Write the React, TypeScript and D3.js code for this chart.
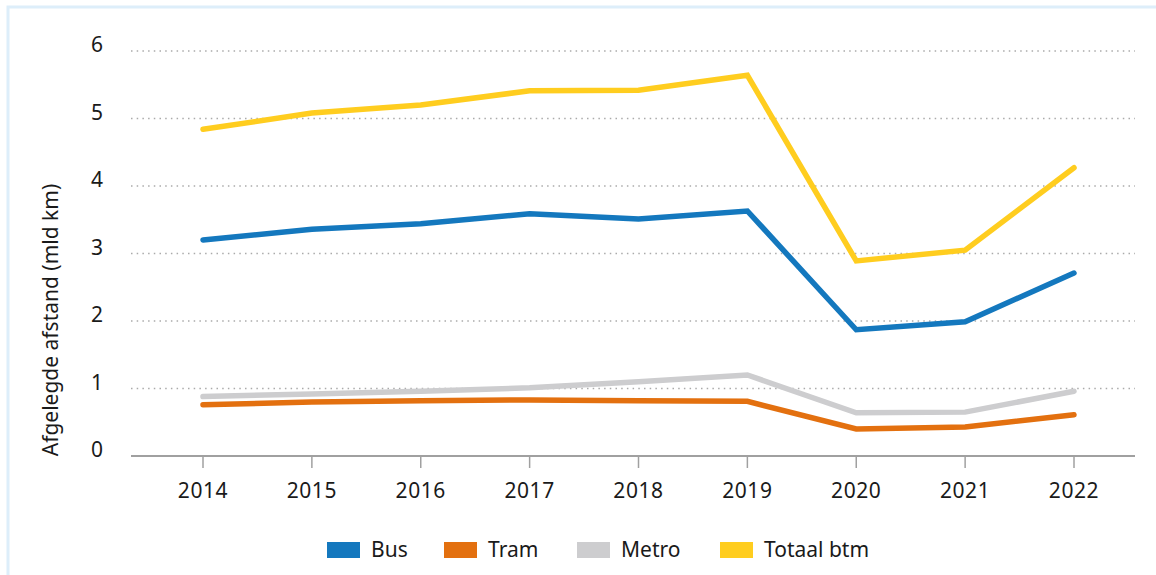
import React from "react";
import * as d3 from "d3";

const years = ["2014", "2015", "2016", "2017", "2018", "2019", "2020", "2021", "2022"];
const bus = [3.2, 3.36, 3.44, 3.59, 3.51, 3.63, 1.87, 1.99, 2.71];
const tram = [0.76, 0.8, 0.82, 0.83, 0.82, 0.81, 0.4, 0.43, 0.61];
const metro = [0.88, 0.92, 0.96, 1.01, 1.1, 1.2, 0.64, 0.65, 0.96];
const totaal = [4.84, 5.08, 5.2, 5.41, 5.42, 5.64, 2.89, 3.05, 4.27];
const yTicks = [0, 1, 2, 3, 4, 5, 6];
const seriesNames = ["Bus", "Tram", "Metro", "Totaal btm"];
const seriesColors = ["#1478be", "#e3700f", "#cdcdcf", "#ffcd1f"];
const yLabel = "Afgelegde afstand (mld km)";

const FONT = "'Noto Sans', 'Open Sans', sans-serif";

export default function App() {
  const W = 1156, H = 575;
  const x = d3.scalePoint<string>().domain(years).range([203, 1074]);
  const y = d3.scaleLinear().domain([0, 6]).range([456, 51]);
  const line = d3
    .line<number>()
    .x((_, i) => x(years[i]) as number)
    .y((d) => y(d));
  const data = [bus, tram, metro, totaal];
  const drawOrder = [3, 0, 2, 1];
  const legendX = [327, 444, 577, 720];

  return (
    <svg
      width={W}
      height={H}
      style={{ position: "absolute", left: 0, top: 0, background: "#fff" }}
      fontFamily={FONT}
    >
      <rect x={8} y={7} width={W + 10} height={H + 10} fill="none" stroke="#ddeefa" strokeWidth={3} />
      {yTicks.map((t) =>
        t === 0 ? null : (
          <line
            key={"g" + t}
            x1={131}
            x2={1135}
            y1={y(t)}
            y2={y(t)}
            stroke="#aaaaaa"
            strokeWidth={1.5}
            strokeDasharray="1.5,4.2"
          />
        )
      )}
      {yTicks.map((t) => (
        <text key={"yt" + t} x={103} y={y(t) + 1} textAnchor="end" fontSize={21} fill="#1a1a1a">
          {t}
        </text>
      ))}
      <text
        transform={`translate(58,${320}) rotate(-90)`}
        textAnchor="middle"
        fontSize={21}
        fill="#1a1a1a"
      >
        {yLabel}
      </text>
      <line x1={131} x2={1135} y1={y(0)} y2={y(0)} stroke="#a0a0a0" strokeWidth={2} />
      {years.map((yr) => (
        <g key={yr}>
          <line x1={x(yr)} x2={x(yr)} y1={y(0)} y2={y(0) + 12} stroke="#a0a0a0" strokeWidth={1.5} />
          <text x={x(yr)} y={498} textAnchor="middle" fontSize={21} letterSpacing={0.6} fill="#1a1a1a">
            {yr}
          </text>
        </g>
      ))}
      {drawOrder.map((i) => (
        <path
          key={"l" + i}
          d={line(data[i]) || ""}
          fill="none"
          stroke={seriesColors[i]}
          strokeWidth={5.5}
          strokeLinecap="round"
          strokeLinejoin="miter"
        />
      ))}
      {seriesNames.map((n, i) => (
        <g key={n}>
          <rect x={legendX[i]} y={542} width={33} height={16} fill={seriesColors[i]} />
          <text x={legendX[i] + 44} y={557} fontSize={21} fill="#1a1a1a">
            {n}
          </text>
        </g>
      ))}
    </svg>
  );
}
